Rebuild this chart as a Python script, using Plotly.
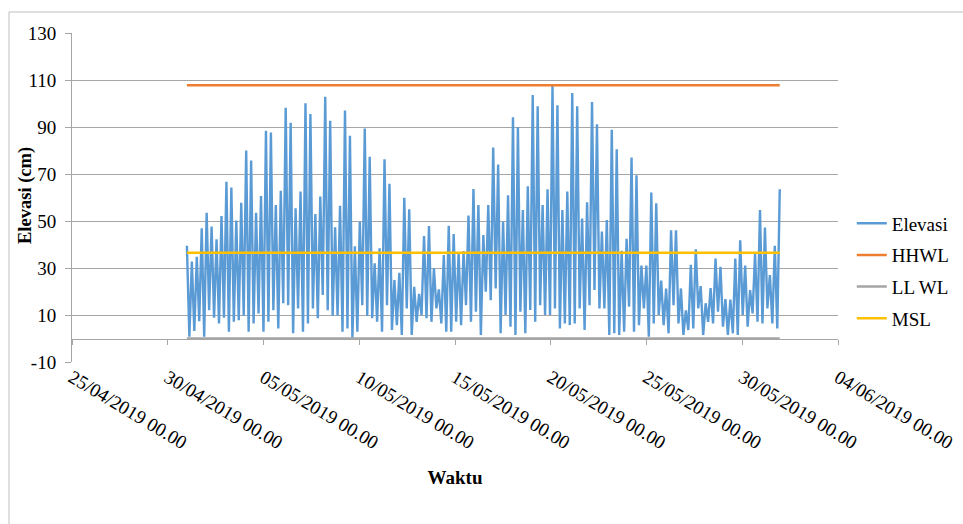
import pandas as pd
import plotly.graph_objects as go

# ---- data ----
start_time = "2019-05-01 00:00"
end_time = "2019-05-31 23:00"

# successive high-water peaks (cm)
peaks = [39.5, 32.7, 34.8, 46.9, 53.5, 47.6, 42.2, 52.1, 66.7, 64.3,
         50.2, 57.8, 80.0, 75.7, 53.5, 60.6, 88.4, 87.6, 56.8, 62.9,
         98.2, 91.8, 55.4, 62.5, 100.1, 95.5, 53.0, 60.4, 102.9, 92.7,
         47.3, 56.5, 97.0, 86.3, 39.2, 49.7, 89.4, 77.3, 32.0, 38.4,
         76.3, 65.8, 24.9, 28.0, 59.9, 55.0, 22.0, 19.0, 43.6, 47.9,
         29.9, 20.9, 35.5, 48.0, 44.5, 36.3, 37.2, 52.3, 63.6, 56.8,
         44.0, 56.8, 81.3, 74.0, 49.7, 61.0, 94.1, 90.0, 54.7, 64.8,
         103.6, 98.8, 56.8, 63.5, 107.5, 99.2, 54.7, 62.5, 104.5, 98.8,
         51.1, 58.0, 100.6, 91.2, 45.5, 50.4, 88.8, 80.5, 37.3, 42.4,
         77.0, 69.5, 31.0, 31.0, 62.1, 57.5, 24.6, 21.2, 46.0, 46.1,
         21.3, 12.0, 31.4, 38.0, 22.3, 15.0, 21.5, 34.0, 30.5, 16.8,
         16.6, 34.0, 41.8, 31.0, 20.6, 36.0, 54.7, 47.2, 27.0, 39.5,
         63.5]

# successive low-water troughs (cm), one between each pair of peaks
troughs = [0.8, 3.2, 7.4, 0.8, 12.0, 8.8, 6.4, 8.8, 2.9, 7.1,
           7.8, 9.7, 2.9, 6.4, 10.7, 2.9, 7.1, 12.0, 4.3, 15.0,
           14.2, 2.2, 12.8, 2.9, 6.4, 12.8, 8.6, 18.5, 12.0, 9.7,
           9.7, 2.9, 4.3, 0.3, 2.9, 14.2, 9.7, 8.6, 7.1, 2.9,
           14.2, 3.6, 5.7, 1.5, 12.8, 1.5, 7.1, 10.0, 8.6, 7.1,
           12.8, 6.4, 2.9, 2.9, 7.1, 5.7, 14.2, 7.1, 11.4, 1.5,
           19.9, 16.3, 21.3, 2.2, 10.0, 5.0, 1.5, 11.4, 2.2, 12.1,
           7.1, 14.2, 10.0, 10.0, 12.8, 4.3, 6.4, 5.7, 6.4, 12.8,
           3.6, 14.2, 20.6, 12.8, 12.8, 1.5, 2.2, 1.5, 2.9, 13.5,
           2.9, 5.7, 12.8, 0.8, 6.4, 10.0, 5.7, 2.2, 14.2, 6.4,
           1.5, 3.6, 4.3, 12.8, 1.5, 7.1, 6.4, 11.4, 5.0, 1.5,
           2.2, 1.5, 10.0, 5.0, 10.7, 7.1, 6.4, 12.8, 6.4, 4.3]

hhwl_value = 107.8
llwl_value = 0.0
msl_value = 36.5

tick_dates = ["2019-04-25", "2019-04-30", "2019-05-05", "2019-05-10", "2019-05-15",
              "2019-05-20", "2019-05-25", "2019-05-30", "2019-06-04"]
tick_labels = ["25/04/2019 00.00", "30/04/2019 00.00", "05/05/2019 00.00",
               "10/05/2019 00.00", "15/05/2019 00.00", "20/05/2019 00.00",
               "25/05/2019 00.00", "30/05/2019 00.00", "04/06/2019 00.00"]
y_ticks = [-10, 10, 30, 50, 70, 90, 110, 130]
y_tick_labels = ["-10", "10", "30", "50", "70", "90", "110", "130"]

# ---- build series ----
elevasi = []
for i, p in enumerate(peaks):
    elevasi.append(p)
    if i < len(troughs):
        elevasi.append(troughs[i])
times = pd.date_range(start_time, end_time, periods=len(elevasi))
span = [times[0], times[-1]]

FONT = "Liberation Serif, Times New Roman, serif"

fig = go.Figure()
fig.add_trace(go.Scatter(x=times, y=elevasi, mode="lines", name="Elevasi",
                         legendgroup="g0",
                         line=dict(color="#5B9BD5", width=2.4)))
fig.add_trace(go.Scatter(x=span, y=[hhwl_value] * 2, mode="lines", name="HHWL",
                         legendgroup="g1",
                         line=dict(color="#ED7D31", width=2.5)))
fig.add_trace(go.Scatter(x=span, y=[llwl_value] * 2, mode="lines", name="LL WL",
                         legendgroup="g2",
                         line=dict(color="#A5A5A5", width=2.5)))
fig.add_trace(go.Scatter(x=span, y=[msl_value] * 2, mode="lines", name="MSL",
                         legendgroup="g3",
                         line=dict(color="#FFC000", width=2.5)))
# invisible trace to carry the tick-only axis crossing at y = 0
fig.add_trace(go.Scatter(x=span, y=[llwl_value] * 2, mode="lines", xaxis="x2",
                         showlegend=False, hoverinfo="skip",
                         line=dict(color="rgba(0,0,0,0)", width=0)))

x_range = [tick_dates[0], tick_dates[-1]]
ymin, ymax = y_ticks[0], y_ticks[-1]

fig.update_layout(
    width=963, height=524,
    margin=dict(l=72, r=125, t=33, b=162, autoexpand=False),
    paper_bgcolor="white", plot_bgcolor="white",
    font=dict(family=FONT, size=18, color="#000000"),
    showlegend=True,
    legend=dict(x=1.018, y=0.277, xanchor="left", yanchor="middle",
                font=dict(family=FONT, size=19, color="#000000"),
                bgcolor="rgba(0,0,0,0)", tracegroupgap=4, traceorder="grouped"),
    xaxis=dict(type="date", range=x_range, tickmode="array", automargin=False,
               tickvals=tick_dates, ticktext=tick_labels, tickangle=31,
               ticks="", showgrid=False, zeroline=False, showline=False,
               tickfont=dict(family=FONT, size=19, color="#000000"),
               title=dict(text="<b>Waktu</b>", font=dict(family=FONT, size=19),
                          standoff=18)),
    xaxis2=dict(type="date", range=x_range, overlaying="x", anchor="free",
                position=(llwl_value - ymin) / (ymax - ymin), side="bottom",
                tickmode="array", tickvals=tick_dates, showticklabels=False,
                ticks="outside", ticklen=5, tickcolor="#A6A6A6", automargin=False,
                showline=True, linecolor="#A6A6A6", linewidth=1,
                showgrid=False, zeroline=False),
    yaxis=dict(range=[ymin, ymax], tickmode="array", tickvals=y_ticks,
               ticktext=y_tick_labels, automargin=False,
               showgrid=True, gridcolor="#A6A6A6", gridwidth=1,
               zeroline=False, showline=True, linecolor="#A6A6A6",
               ticks="outside", ticklen=6, tickcolor="#A6A6A6",
               ticklabelstandoff=5,
               tickfont=dict(family=FONT, size=19, color="#000000")),
    annotations=[dict(text="<b>Elevasi (cm)</b>", textangle=-90,
                      xref="paper", yref="paper", x=(25 - 72) / 766,
                      y=(362 - 196) / 329, xanchor="center", yanchor="middle",
                      showarrow=False, font=dict(family=FONT, size=18.5))],
    shapes=[dict(type="rect", xref="paper", yref="paper",
                 x0=(9 - 72) / 766, x1=1.2, y0=-0.6, y1=(362 - 12) / 329,
                 line=dict(color="#BFBFBF", width=1), fillcolor="rgba(0,0,0,0)",
                 layer="below")],
)

fig.write_html("out.html")
